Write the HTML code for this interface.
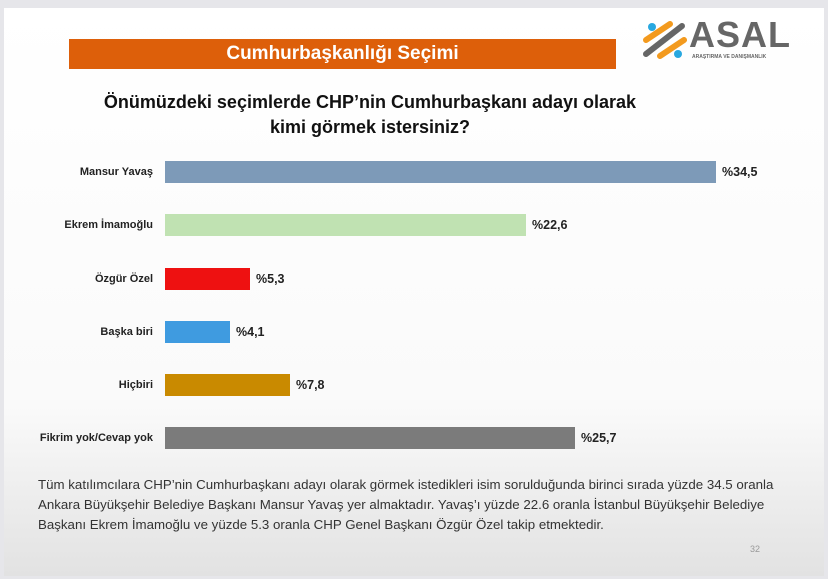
<!DOCTYPE html>
<html><head><meta charset="utf-8"><style>
*{margin:0;padding:0;box-sizing:border-box}
body{width:828px;height:579px;background:#e6e6ea;position:relative;overflow:hidden;font-family:"Liberation Sans",sans-serif}
.slide{position:absolute;left:4px;top:8px;width:820px;height:568px;background:linear-gradient(#ffffff 0%,#fafafa 70%,#e2e2e2 100%)}
.abs{position:absolute}
.banner{left:69px;top:39px;width:547px;height:30px;background:#dd5f0a;color:#fff;font-weight:bold;font-size:19px;text-align:center;line-height:30px}
.q{left:60px;width:620px;text-align:center;font-weight:bold;font-size:18px;color:#111}
.lbl{right:675px;font-weight:bold;font-size:11px;color:#222;text-align:right;white-space:nowrap}
.bar{left:165px;height:22px}
.val{font-weight:bold;font-size:12.5px;color:#222}
.ft{left:38px;font-size:13.3px;color:#333;white-space:nowrap}
</style></head><body>
<div class="slide"></div>
<div class="abs banner">Cumhurbaşkanlığı Seçimi</div>
<svg class="abs" style="left:640px;top:18px" width="50" height="42" viewBox="0 0 50 42">
<circle cx="12" cy="9" r="4" fill="#29a8e0"/><circle cx="38" cy="36" r="4" fill="#29a8e0"/>
<line x1="6" y1="22" x2="30" y2="6" stroke="#f39a1e" stroke-width="6" stroke-linecap="round"/>
<line x1="20" y1="38" x2="44" y2="22" stroke="#f39a1e" stroke-width="6" stroke-linecap="round"/>
<line x1="6" y1="36" x2="42" y2="8" stroke="#666" stroke-width="6" stroke-linecap="round"/>
</svg>
<div class="abs" style="left:689px;top:14px;font-weight:bold;font-size:36px;color:#666;letter-spacing:1px">ASAL</div>
<div class="abs" style="left:692px;top:54px;font-size:5px;color:#666;font-weight:bold">ARAŞTIRMA VE DANIŞMANLIK</div>
<div class="abs q" style="top:92px">Önümüzdeki seçimlerde CHP’nin Cumhurbaşkanı adayı olarak</div>
<div class="abs q" style="top:117px">kimi görmek istersiniz?</div>

<div class="abs lbl" style="top:166px">Mansur Yavaş</div>
<div class="abs bar" style="top:161px;width:551px;background:#7d9ab8"></div>
<div class="abs val" style="left:722px;top:165px">%34,5</div>

<div class="abs lbl" style="top:219px">Ekrem İmamoğlu</div>
<div class="abs bar" style="top:214px;width:361px;background:#c0e2b2"></div>
<div class="abs val" style="left:532px;top:218px">%22,6</div>

<div class="abs lbl" style="top:273px">Özgür Özel</div>
<div class="abs bar" style="top:268px;width:85px;background:#ee1111"></div>
<div class="abs val" style="left:256px;top:272px">%5,3</div>

<div class="abs lbl" style="top:326px">Başka biri</div>
<div class="abs bar" style="top:321px;width:65px;background:#3f9be0"></div>
<div class="abs val" style="left:236px;top:325px">%4,1</div>

<div class="abs lbl" style="top:379px">Hiçbiri</div>
<div class="abs bar" style="top:374px;width:125px;background:#c98a00"></div>
<div class="abs val" style="left:296px;top:378px">%7,8</div>

<div class="abs lbl" style="top:432px">Fikrim yok/Cevap yok</div>
<div class="abs bar" style="top:427px;width:410px;background:#7b7b7b"></div>
<div class="abs val" style="left:581px;top:431px">%25,7</div>

<div class="abs ft" style="top:477px">Tüm katılımcılara CHP’nin Cumhurbaşkanı adayı olarak görmek istedikleri isim sorulduğunda birinci sırada yüzde 34.5 oranla</div>
<div class="abs ft" style="top:497px">Ankara Büyükşehir Belediye Başkanı Mansur Yavaş yer almaktadır. Yavaş’ı yüzde 22.6 oranla İstanbul Büyükşehir Belediye</div>
<div class="abs ft" style="top:517px">Başkanı Ekrem İmamoğlu ve yüzde 5.3 oranla CHP Genel Başkanı Özgür Özel takip etmektedir.</div>
<div class="abs" style="left:750px;top:544px;font-size:9px;color:#999">32</div>
</body></html>
